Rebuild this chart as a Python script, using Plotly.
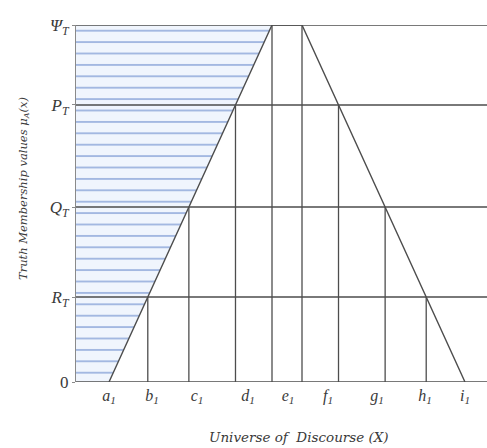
import plotly.graph_objects as go

# ---- data (x in axis units, y as membership level) ----
level_names = ["0", "R<sub>T</sub>", "Q<sub>T</sub>", "P<sub>T</sub>", "Ψ<sub>T</sub>"]
levels = [0.0, 0.238, 0.490, 0.776, 1.0]
x_a, x_e, x_f, x_i = 33, 196, 226, 389          # trapezoid corners
tick_labels = ["a", "b", "c", "d", "e", "f", "g", "h", "i"]
tick_pos = [33, 76, 121, 172, 212, 252, 301, 349, 389]

LINE = "#4d4d4d"
TXT = "#3a3a3a"
FONT = "Liberation Serif"
TFONT = "DejaVu Serif"

fig = go.Figure()

# hatched region between y-axis and left edge of trapezoid
fig.add_trace(go.Scatter(
    x=[0, x_a, x_e, 0, 0], y=[0, 0, 1, 1, 0], mode="lines",
    line=dict(width=0), fill="toself",
    fillcolor="rgba(238,243,252,1)",
    fillpattern=dict(shape="-", fgcolor="#95acdc", bgcolor="rgba(240,245,253,1)",
                     size=11.4, solidity=0.14, fillmode="replace"),
    hoverinfo="skip", showlegend=False))

# horizontal level lines
for lv in levels[1:]:
    fig.add_trace(go.Scatter(x=[0, 411], y=[lv, lv], mode="lines",
                             line=dict(color=LINE, width=1.4), cliponaxis=False,
                             hoverinfo="skip", showlegend=False))
fig.add_trace(go.Scatter(x=[0, 411], y=[0, 0], mode="lines",
                         line=dict(color=LINE, width=1.4), cliponaxis=False,
                         hoverinfo="skip", showlegend=False))

# vertical lines from baseline up to trapezoid edges
for lv in levels[1:]:
    xl = x_a + (x_e - x_a) * lv
    xr = x_f + (x_i - x_f) * (1 - lv)
    for xv in (xl, xr):
        fig.add_trace(go.Scatter(x=[xv, xv], y=[0, lv], mode="lines",
                                 line=dict(color=LINE, width=1.3), cliponaxis=False,
                                 hoverinfo="skip", showlegend=False))

# trapezoid edges
fig.add_trace(go.Scatter(x=[x_a, x_e, x_f, x_i], y=[0, 1, 1, 0], mode="lines",
                         line=dict(color=LINE, width=1.4), cliponaxis=False,
                         hoverinfo="skip", showlegend=False))

fig.update_layout(
    width=487, height=448,
    margin=dict(l=76, r=0, t=25, b=66),
    plot_bgcolor="white", paper_bgcolor="white",
    showlegend=False,
    xaxis=dict(range=[0, 411], showgrid=False, zeroline=False, showline=False,
               tickvals=tick_pos,
               ticktext=[f"<i>{t}<sub>1</sub></i>" for t in tick_labels],
               tickfont=dict(family=FONT, size=16, color=TXT),
               ticks="", ticklabelstandoff=2),
    yaxis=dict(range=[0, 1], showgrid=False, zeroline=False,
               showline=True, linecolor="#8a8a8a", linewidth=1,
               tickvals=levels, ticktext=[f"<i>{t}</i>" if t != "0" else t for t in level_names],
               tickfont=dict(family=FONT, size=17, color=TXT),
               ticks="outside", ticklen=3, tickcolor="#8a8a8a"),
    annotations=[
        dict(text="<i>Truth Membership values μ<sub>A</sub>(x)</i>", textangle=-90,
             xref="paper", yref="paper", x=(23 - 76) / 411, y=(382 - 189) / 357,
             xanchor="center", yanchor="middle",
             showarrow=False, font=dict(family=TFONT, size=11.5, color=TXT)),
        dict(text="<i>Universe of  Discourse (X)</i>",
             xref="paper", yref="paper", x=(299 - 76) / 411, y=(382 - 437) / 357,
             xanchor="center", yanchor="middle",
             showarrow=False, font=dict(family=TFONT, size=13.5, color=TXT)),
    ],
)

fig.write_html("out.html", config={"displayModeBar": False},
               post_script="document.body.style.margin='0';")
